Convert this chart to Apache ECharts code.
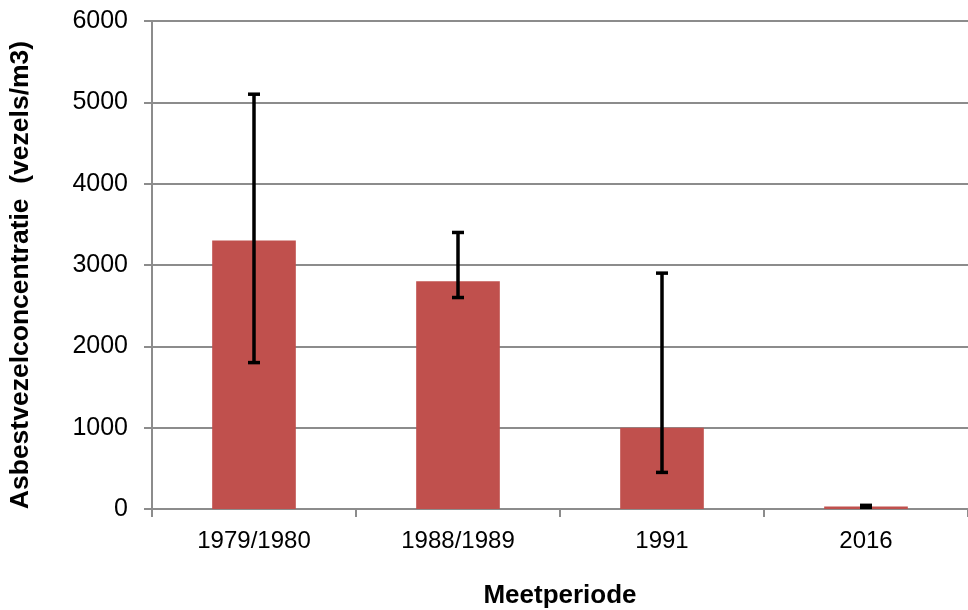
<!DOCTYPE html>
<html><head><meta charset="utf-8">
<script src="https://cdn.jsdelivr.net/npm/echarts@6/dist/echarts.min.js"></script>
<style>html,body{margin:0;padding:0;background:#fff}#c{width:968px;height:610px}</style>
</head><body><div id="c"></div>
<script>
var categories = ['1979/1980', '1988/1989', '1991', '2016'];
var values = [3300, 2800, 1000, 30];
var errLow = [1800, 2600, 450, 20];
var errHigh = [5100, 3400, 2900, 45];
var yTicks = [0, 1000, 2000, 3000, 4000, 5000, 6000];

var chart = echarts.init(document.getElementById('c'));
var errData = categories.map(function (c, i) { return [i, errLow[i], errHigh[i]]; });
chart.setOption({
  animation: false,
  grid: { left: 152, right: 0, top: 21, bottom: 101, containLabel: false, outerBoundsMode: 'none' },
  xAxis: {
    type: 'category', data: categories,
    name: 'Meetperiode', nameLocation: 'middle', nameGap: 74,
    nameTextStyle: { fontFamily: 'Liberation Sans', fontSize: 26, fontWeight: 'bold', color: '#000' },
    axisLine: { lineStyle: { color: '#8c8c8c', width: 2 } },
    axisTick: { show: true, length: 8, lineStyle: { color: '#8c8c8c', width: 2 } },
    axisLabel: { fontFamily: 'Liberation Sans', fontSize: 24, color: '#000', margin: 20 }
  },
  yAxis: {
    type: 'value', min: yTicks[0], max: yTicks[yTicks.length - 1], interval: 1000,
    name: 'Asbestvezelconcentratie  (vezels/m3)', nameLocation: 'middle', nameGap: 118,
    nameTextStyle: { fontFamily: 'Liberation Sans', fontSize: 26.5, fontWeight: 'bold', color: '#000', padding: [0, 20, 0, 0] },
    axisLine: { show: true, lineStyle: { color: '#8c8c8c', width: 2 } },
    axisTick: { show: true, length: 8, lineStyle: { color: '#8c8c8c', width: 2 } },
    axisLabel: { fontFamily: 'Liberation Sans', fontSize: 25, color: '#000', margin: 24,
      formatter: function (v) { return String(v); } },
    splitLine: { lineStyle: { color: '#8c8c8c', width: 2 } }
  },
  series: [
    { type: 'bar', data: values, barWidth: '41%', itemStyle: { color: '#c0504d' } },
    {
      type: 'custom', data: errData, z: 10,
      renderItem: function (params, api) {
        var x = api.value(0);
        var lo = api.coord([x, api.value(1)]);
        var hi = api.coord([x, api.value(2)]);
        var hw = 6;
        var st = { stroke: '#000', lineWidth: 3.5 };
        return { type: 'group', children: [
          { type: 'line', shape: { x1: lo[0], y1: lo[1], x2: hi[0], y2: hi[1] }, style: st },
          { type: 'line', shape: { x1: lo[0] - hw, y1: lo[1], x2: lo[0] + hw, y2: lo[1] }, style: st },
          { type: 'line', shape: { x1: hi[0] - hw, y1: hi[1], x2: hi[0] + hw, y2: hi[1] }, style: st }
        ] };
      }
    }
  ]
});
</script></body></html>
